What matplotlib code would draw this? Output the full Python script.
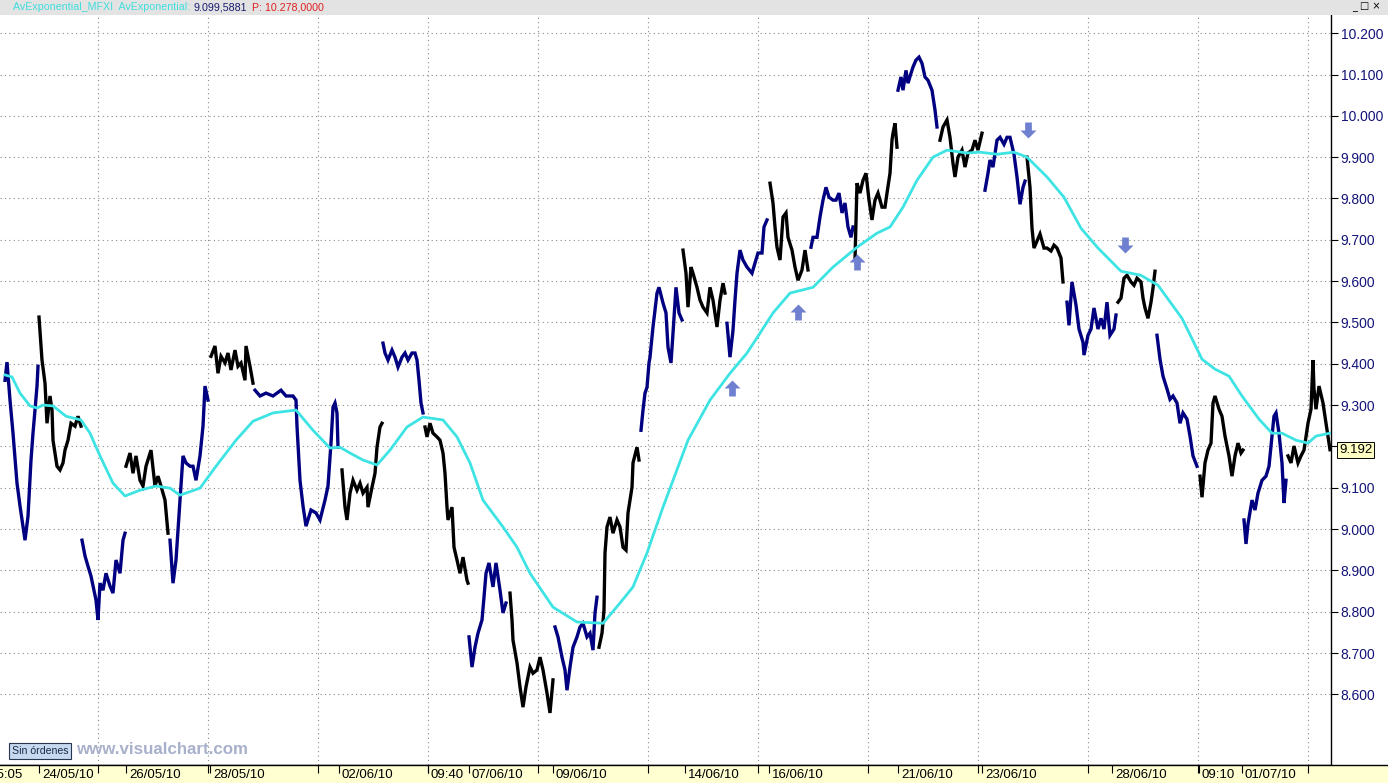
import numpy as np
import matplotlib.pyplot as plt
from matplotlib.path import Path
from matplotlib.patches import Rectangle

plt.rcParams['font.family'] = ['Liberation Sans', 'DejaVu Sans']

# bar index (time axis) and price in index points
bar_idx = [5, 7, 10, 13, 17, 20, 25, 28, 31, 33, 35, 37, 38,
           39, 42, 45, 47, 50, 52, 53, 57, 60, 63, 65, 68, 71, 75, 78, 81,
           82, 85, 88, 91, 96, 98, 100, 103, 106, 110, 113, 116, 120, 123, 125,
           126, 130, 133, 136, 140, 143, 146, 151, 155, 158, 161, 165, 168,
           170, 173, 176, 180, 183, 186, 190, 193, 196, 200, 203, 205, 208,
           211, 215, 218, 221, 225, 228, 231, 235, 238, 241, 245, 246, 250, 253,
           255, 260, 266, 273, 281, 286, 293, 296, 297, 300, 303, 306, 311, 316, 320, 325, 328, 331, 333, 335, 337, 338,
           342, 345, 347, 350, 353, 357, 360, 363, 367, 368, 372, 375, 377, 380, 382,
           383, 385, 388, 392, 395, 398, 402, 405, 408, 412, 415, 417, 419, 421, 423,
           425, 427, 430, 433, 437, 440, 443, 445, 447, 448, 452, 454, 457, 460, 463, 467, 468,
           469, 472, 475, 478, 482, 484, 486, 489, 493, 496, 500, 503, 506,
           510, 512, 513, 517, 520, 523, 526, 530, 533, 537, 540, 543, 547, 550, 553,
           555, 558, 562, 565, 567, 570, 573, 577, 580, 583, 587, 590, 593, 595, 597,
           599, 602, 604, 605, 607, 610, 613, 617, 620, 623, 626, 628, 632, 633, 637, 639,
           641, 643, 645, 647, 649, 650, 653, 657, 659, 663, 666, 668, 671, 673, 676, 679, 682,
           683, 686, 688, 691, 693, 697, 700, 703, 707, 710, 713, 717, 720, 723, 725,
           727, 730, 733, 735, 737, 740, 743, 747, 752, 755, 758, 762, 764, 767,
           770, 773, 775, 777, 780, 783, 786, 788, 792, 795, 798, 802, 805, 808,
           811, 813, 817, 820, 823, 826, 829, 833, 836, 839, 842, 845, 848, 851, 853,
           855, 857, 860, 863, 866, 869, 872, 875, 878, 882, 885, 887, 890, 892, 893, 895, 897,
           898, 901, 903, 906, 908, 911, 913, 916, 919, 922, 925, 928, 932, 935, 937,
           940, 943, 947, 950, 953, 955, 958, 962, 965, 968, 972, 975, 978, 982,
           985, 988, 990, 993, 997, 1000, 1004, 1007, 1010, 1014, 1017, 1020, 1023, 1025,
           1027, 1030, 1032, 1034, 1037, 1040, 1044, 1047, 1051, 1054, 1057, 1061, 1063,
           1067, 1069, 1072, 1076, 1079, 1083, 1084, 1088, 1091, 1094, 1098, 1101, 1104, 1107, 1110, 1114, 1116,
           1118, 1121, 1124, 1127, 1131, 1134, 1137, 1141, 1143, 1145, 1148, 1151, 1153, 1155,
           1157, 1160, 1163, 1167, 1170, 1173, 1177, 1180, 1183, 1187, 1190, 1193, 1197,
           1200, 1202, 1205, 1208, 1211, 1213, 1215, 1219, 1222, 1225, 1229, 1232, 1235, 1238, 1241, 1243,
           1244, 1246, 1248, 1252, 1255, 1258, 1262, 1266, 1269, 1272, 1274, 1276, 1279, 1282, 1284, 1286,
           1288, 1291, 1294, 1298, 1301, 1304, 1308, 1311, 1313, 1314, 1316, 1319, 1323, 1326, 1330]
price = [9360, 9404, 9312, 9232, 9111, 9056, 8973, 9031, 9167, 9232, 9288, 9346, 9394,
         9513, 9409, 9353, 9256, 9322, 9288, 9215, 9152, 9143, 9160, 9191, 9215, 9256, 9249, 9273, 9249,
         8973, 8935, 8910, 8886, 8828, 8780, 8869, 8852, 8893, 8862, 8845, 8925, 8893, 8973, 8990,
         9152, 9184, 9135, 9177, 9118, 9104, 9152, 9191, 9104, 9128, 9104, 9070, 8990,
         8973, 8869, 8925, 9070, 9177, 9160, 9152, 9152, 9118, 9177, 9249, 9346, 9312,
         9418, 9443, 9377, 9418, 9402, 9426, 9385, 9433, 9394, 9402, 9360, 9443, 9394, 9353,
         9336, 9322, 9329, 9322, 9336, 9322, 9322, 9312, 9249, 9118, 9056, 9007, 9046, 9039, 9022, 9070, 9104, 9208, 9295, 9305, 9281, 9198,
         9143, 9053, 9022, 9087, 9118, 9094, 9111, 9087, 9101, 9053, 9101, 9135, 9198, 9247, 9256,
         9450, 9426, 9409, 9433, 9416, 9392, 9416, 9426, 9409, 9426, 9426, 9409, 9360, 9305, 9281,
         9247, 9223, 9256, 9232, 9223, 9215, 9184, 9135, 9053, 9022, 9053, 8956, 8925, 8893, 8932, 8876, 8869,
         8739, 8666, 8714, 8748, 8780, 8835, 8893, 8918, 8860, 8918, 8852, 8797, 8821,
         8845, 8780, 8731, 8676, 8618, 8569, 8618, 8666, 8651, 8659, 8690, 8659, 8603, 8555, 8635,
         8763, 8739, 8690, 8659, 8610, 8666, 8714, 8739, 8763, 8772, 8739, 8748, 8707, 8797, 8835,
         8714, 8748, 8804, 8942, 9005, 9029, 8990, 9022, 9005, 8956, 8949, 9039, 9101, 9160, 9198, 9167,
         9239, 9288, 9329, 9343, 9402, 9416, 9489, 9571, 9585, 9547, 9523, 9440, 9402, 9474, 9585, 9523, 9506,
         9675, 9619, 9537, 9634, 9619, 9585, 9554, 9537, 9523, 9585, 9554, 9489, 9554, 9595, 9571,
         9498, 9416, 9481, 9554, 9619, 9675, 9651, 9634, 9619, 9644, 9668, 9668, 9731, 9748,
         9837, 9789, 9731, 9682, 9651, 9755, 9765, 9706, 9675, 9634, 9602, 9627, 9675, 9627,
         9682, 9706, 9706, 9755, 9796, 9827, 9803, 9796, 9796, 9813, 9765, 9789, 9731, 9706, 9731,
         9652, 9837, 9813, 9844, 9861, 9796, 9748, 9796, 9813, 9779, 9779, 9813, 9861, 9941, 9958, 9982, 9924,
         10062, 10094, 10062, 10110, 10079, 10103, 10118, 10135, 10142, 10127, 10094, 10086, 10062, 10014, 9973,
         9941, 9973, 9990, 9948, 9885, 9852, 9900, 9917, 9876, 9910, 9917, 9941, 9917, 9958,
         9820, 9861, 9893, 9876, 9941, 9948, 9931, 9948, 9948, 9907, 9852, 9786, 9827, 9842,
         9900, 9827, 9728, 9680, 9697, 9714, 9680, 9680, 9673, 9687, 9680, 9656, 9598,
         9549, 9493, 9598, 9542, 9484, 9452, 9421, 9469, 9484, 9535, 9484, 9510, 9484, 9549, 9469, 9484, 9518,
         9549, 9559, 9607, 9614, 9598, 9590, 9607, 9598, 9559, 9535, 9510, 9549, 9583, 9624,
         9469, 9411, 9370, 9339, 9314, 9322, 9305, 9256, 9281, 9266, 9225, 9177, 9152,
         9128, 9077, 9160, 9191, 9208, 9305, 9322, 9290, 9273, 9225, 9177, 9128, 9177, 9208, 9184, 9191,
         9022, 8964, 9012, 9070, 9046, 9087, 9118, 9128, 9152, 9225, 9273, 9281, 9232, 9160, 9063, 9118,
         9177, 9160, 9201, 9160, 9177, 9191, 9256, 9290, 9409, 9339, 9290, 9346, 9305, 9256, 9192]

# first bar of every session; colours alternate navy / black
session_start = [5, 39, 82, 126, 170, 211, 255, 342, 383, 425, 469, 510, 555, 599, 641,
                 683, 727, 770, 811, 855, 898, 940, 985, 1027, 1067, 1118, 1157, 1200, 1244, 1288]

ema_bar = [5, 12, 20, 30, 37, 43, 53, 66, 81, 90, 100, 113, 125, 140, 156, 170, 180, 200, 216, 236,
           253, 273, 296, 313, 330, 340, 350, 363, 377, 390, 407, 423, 443, 457, 470, 483, 503, 517,
           530, 553, 577, 603, 620, 633, 647, 663, 688, 710, 730, 747, 760, 773, 790, 813, 833, 857,
           877, 890, 903, 917, 933, 947, 967, 980, 997, 1014, 1027, 1047, 1064, 1081, 1098, 1121,
           1141, 1158, 1182, 1202, 1215, 1229, 1242, 1259, 1272, 1282, 1296, 1308, 1316, 1330]
ema = [9373, 9368, 9329, 9298, 9293, 9300, 9298, 9273, 9264, 9232, 9177, 9111, 9080, 9094, 9104,
       9099, 9082, 9099, 9152, 9215, 9261, 9281, 9288, 9239, 9196, 9198, 9184, 9167, 9155, 9191,
       9247, 9271, 9264, 9223, 9160, 9070, 9005, 8956, 8893, 8811, 8775, 8772, 8821, 8860, 8942,
       9053, 9215, 9312, 9377, 9426, 9474, 9523, 9571, 9585, 9634, 9682, 9716, 9731, 9779, 9844,
       9900, 9917, 9910, 9912, 9907, 9912, 9900, 9852, 9803, 9728, 9680, 9624, 9614, 9590, 9510,
       9411, 9387, 9370, 9322, 9266, 9232, 9232, 9215, 9208, 9225, 9232]

buy_bar = [732, 798, 857]
buy_px = [9341, 9525, 9646]
sell_bar = [1028, 1125]
sell_px = [9965, 9687]

price_ticks = [8600, 8700, 8800, 8900, 9000, 9100, 9200, 9300, 9400, 9500,
               9600, 9700, 9800, 9900, 10000, 10100, 10200]
date_bar = [-13, 39, 126, 210, 339, 428, 469, 553, 685, 769, 898, 982, 1112, 1199, 1242]
date_labels = ['15:05', '24/05/10', '26/05/10', '28/05/10', '02/06/10', '09:40', '07/06/10',
               '09/06/10', '14/06/10', '16/06/10', '21/06/10', '23/06/10', '28/06/10', '09:10', '01/07/10']
grid_bar = [98, 208, 318, 428, 538, 648, 758, 868, 978, 1088, 1198, 1308]
last_price = 9192

W, H = 1388, 783
fig = plt.figure(figsize=(W / 100, H / 100), dpi=100)
fig.patch.set_facecolor('white')

ax = fig.add_axes([0, 18 / H, 1331 / W, 750 / H])
ax.set_xlim(0, 1331)
ax.set_ylim(8429, 10244)

# price sessions
bx_arr = np.array(bar_idx)
px_arr = np.array(price)
cuts = np.searchsorted(bx_arr, session_start)
cuts = list(cuts) + [len(bx_arr)]
for k in range(len(session_start)):
    s, e = cuts[k], cuts[k + 1]
    col = '#000080' if k % 2 == 0 else 'black'
    ax.plot(bx_arr[s:e], px_arr[s:e], color=col, lw=2.4, solid_joinstyle='miter')

ax.plot(ema_bar, ema, color='#3ee3e3', lw=2.0, zorder=3)

up = Path([(-1, 0), (0, 1), (1, 0), (0.42, 0), (0.42, -1), (-0.42, -1), (-0.42, 0), (-1, 0)], closed=True)
down = Path([(-1, 0), (0, -1), (1, 0), (0.42, 0), (0.42, 1), (-0.42, 1), (-0.42, 0), (-1, 0)], closed=True)
ax.plot(buy_bar, buy_px, ls='none', marker=up, ms=11.5, color='#7080d0', mec='none', zorder=4)
ax.plot(sell_bar, sell_px, ls='none', marker=down, ms=11.5, color='#7080d0', mec='none', zorder=4)

# grid and axes; the 9.200 label sits under the last-price box
ax.set_yticks(price_ticks)
ax.set_yticklabels(['' if v == 9200 else f'{v:,}'.replace(',', '.') for v in price_ticks])
ax.yaxis.tick_right()
ax.tick_params(axis='y', direction='out', length=5, width=0.8, labelsize=10,
               labelcolor='#14147a', pad=2)
ax.set_xticks(grid_bar)
ax.tick_params(axis='x', length=0, labelbottom=False)
ax.grid(True, color='#8a8a8a', ls=(0, (1, 3)), lw=0.8)
for side in ['left', 'top']:
    ax.spines[side].set_visible(False)
ax.spines['right'].set_linewidth(1.0)
ax.spines['bottom'].set_linewidth(1.0)

ax.text(1339, last_price, f'{last_price:,}'.replace(',', '.'), fontsize=9.5, va='center',
        ha='left', clip_on=False,
        bbox=dict(facecolor='#ffffc4', edgecolor='black', lw=0.7, boxstyle='square,pad=0.15'))

# date band
band = fig.add_axes([0, 0, 1, 18 / H])
band.set_xlim(0, W)
band.set_ylim(0, 1)
band.set_facecolor('#ffffd2')
for side in ['left', 'right', 'bottom']:
    band.spines[side].set_visible(False)
band.spines['top'].set_linewidth(1.0)
band.set_yticks([])
band.set_xticks([b for b in date_bar if b > 0] + grid_bar)
band.tick_params(axis='x', direction='in', length=6, width=0.8, top=True, bottom=False,
                 labelbottom=False)
for b, lab in zip(date_bar, date_labels):
    band.text(b + 3, 0.42, lab, fontsize=9.5, ha='left', va='center', clip_on=True)

# header strip
fig.patches.append(Rectangle((0, 1 - 15 / H), 1, 15 / H, transform=fig.transFigure,
                             facecolor='#e3e3e3', edgecolor='none', zorder=0))
yh = 1 - 7.5 / H
t1 = fig.text(13 / W, yh, 'AvExponential_MFXI  AvExponential: ', color='#3fdede',
              fontsize=7.7, va='center')
fig.canvas.draw()
r = fig.canvas.get_renderer()
x1 = t1.get_window_extent(r).x1
t2 = fig.text(x1 / W, yh, '9.099,5881', color='#1a1a70', fontsize=7.7, va='center')
x2 = t2.get_window_extent(r).x1
fig.text(x2 / W + 5 / W, yh, 'P: 10.278,0000', color='#e02020', fontsize=7.7, va='center')
fig.text(1352 / W, yh, '_ □ ×', fontsize=7, va='center', family=['DejaVu Sans'])

# watermark
fig.text(12 / W, 1 - 751 / H, 'Sin órdenes', fontsize=7.6, va='center', color='#1a2a4a',
         bbox=dict(facecolor='#c6d9ef', edgecolor='#2a3550', lw=0.8, boxstyle='square,pad=0.25'))
fig.text(76 / W, 1 - 749 / H, 'www.visualchart.com', fontsize=12.2, fontweight='bold',
         color='#a8b0cc', va='center')

fig.savefig('out.png', dpi=100)
